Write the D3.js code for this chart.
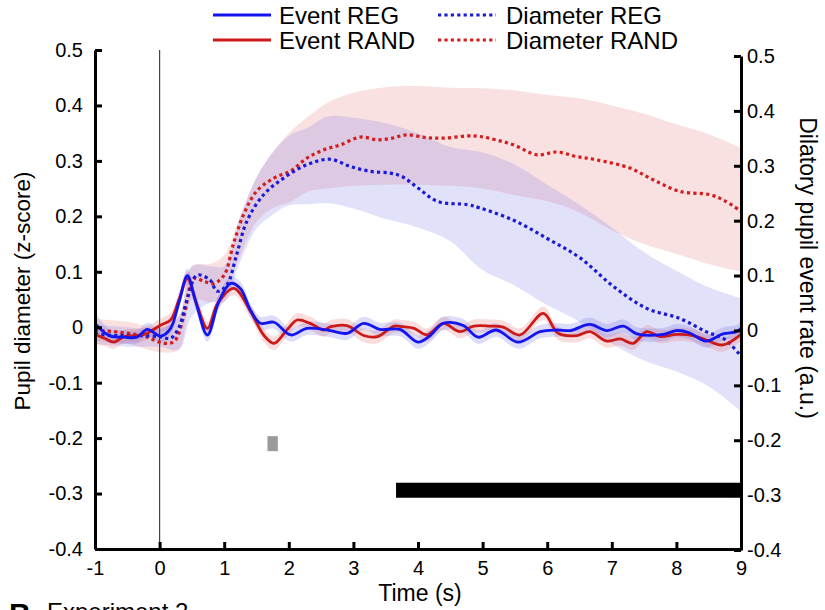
<!DOCTYPE html>
<html><head><meta charset="utf-8">
<script src="https://cdn.jsdelivr.net/npm/d3@7"></script>
<style>body{margin:0;background:#fff} svg{display:block} text{font-family:"Liberation Sans",Arial,sans-serif;fill:#000}</style>
</head><body><svg id="c" width="825" height="610"></svg>
<script>
// ---------- data ----------
const xTicks = [-1, 0, 1, 2, 3, 4, 5, 6, 7, 8, 9];
const yTicks = [-0.4, -0.3, -0.2, -0.1, 0, 0.1, 0.2, 0.3, 0.4, 0.5];

const seriesNames = ["Event REG", "Event RAND", "Diameter REG", "Diameter RAND"];

// Diameter REG (dotted blue), mean
const diamREG_t = [-1, -0.7, -0.33, 0, 0.17, 0.3, 0.43, 0.58, 0.78, 0.89, 1.04, 1.19, 1.35, 1.61, 1.92, 2.28, 2.64, 2.95, 3.27, 3.57, 3.75, 4.0, 4.3, 4.77, 4.96, 5.48, 6.0, 6.51, 7.02, 7.54, 8.05, 8.46, 8.75, 9.0];
const diamREG_v = [-0.012, -0.015, -0.015, -0.017, -0.02, 0.0, 0.052, 0.094, 0.085, 0.065, 0.076, 0.13, 0.191, 0.239, 0.269, 0.293, 0.303, 0.29, 0.281, 0.278, 0.272, 0.251, 0.227, 0.221, 0.215, 0.193, 0.16, 0.125, 0.074, 0.034, 0.016, -0.008, -0.022, -0.052];

// Diameter RAND (dotted red), mean
const diamRAND_t = [-1, -0.55, -0.24, 0.07, 0.23, 0.38, 0.53, 0.7, 0.84, 1.0, 1.14, 1.3, 1.5, 1.77, 2.03, 2.28, 2.54, 2.8, 3.11, 3.37, 3.6, 3.82, 4.13, 4.4, 4.77, 4.96, 5.2, 5.48, 5.84, 6.15, 6.45, 6.76, 7.28, 7.64, 8.05, 8.52, 8.75, 9.0];
const diamRAND_v = [-0.005, -0.01, -0.016, -0.029, -0.025, 0.022, 0.088, 0.082, 0.079, 0.094, 0.149, 0.203, 0.245, 0.269, 0.282, 0.305, 0.32, 0.329, 0.343, 0.338, 0.341, 0.347, 0.342, 0.341, 0.345, 0.344, 0.338, 0.329, 0.311, 0.316, 0.308, 0.302, 0.287, 0.266, 0.245, 0.239, 0.228, 0.209];

// Diameter confidence bands
const band_t = [-1, -0.5, 0, 0.3, 0.5, 0.8, 1.0, 1.25, 1.5, 1.75, 2.0, 2.3, 2.6, 3.0, 3.5, 4.0, 4.5, 5.0, 5.5, 6.0, 6.5, 7.0, 7.5, 8.0, 8.5, 9.0];
const diamRAND_hi = [0.015, 0.01, 0.0, 0.02, 0.11, 0.115, 0.13, 0.2, 0.27, 0.315, 0.35, 0.38, 0.405, 0.423, 0.433, 0.435, 0.432, 0.431, 0.427, 0.419, 0.413, 0.4, 0.385, 0.366, 0.348, 0.323];
const diamRAND_lo = [-0.025, -0.03, -0.045, -0.04, 0.05, 0.045, 0.06, 0.13, 0.19, 0.215, 0.225, 0.245, 0.25, 0.255, 0.257, 0.257, 0.255, 0.25, 0.238, 0.227, 0.207, 0.175, 0.15, 0.132, 0.114, 0.1];
const diamREG_hi = [0.005, 0.0, -0.002, 0.02, 0.11, 0.11, 0.11, 0.2, 0.27, 0.315, 0.345, 0.36, 0.38, 0.378, 0.368, 0.35, 0.325, 0.315, 0.293, 0.257, 0.221, 0.18, 0.135, 0.102, 0.072, 0.052];
const diamREG_lo = [-0.03, -0.035, -0.035, -0.04, 0.02, 0.045, 0.045, 0.119, 0.178, 0.203, 0.22, 0.222, 0.224, 0.214, 0.195, 0.18, 0.155, 0.103, 0.075, 0.04, 0.01, -0.03, -0.06, -0.08, -0.107, -0.152];

// Event REG (solid blue)
const evREG_t = [-1, -0.85, -0.76, -0.55, -0.35, -0.19, 0.02, 0.17, 0.3, 0.43, 0.55, 0.74, 0.92, 1.1, 1.25, 1.41, 1.56, 1.77, 2.03, 2.28, 2.64, 2.9, 3.16, 3.41, 3.72, 4.0, 4.19, 4.39, 4.7, 4.93, 5.21, 5.55, 5.89, 6.15, 6.36, 6.66, 6.92, 7.18, 7.39, 7.8, 8.0, 8.2, 8.46, 8.72, 8.93, 9.0];
const evREG_v = [0.007, -0.01, -0.016, -0.018, -0.018, -0.004, -0.016, -0.002, 0.045, 0.093, 0.05, -0.014, 0.047, 0.079, 0.07, 0.03, 0.007, 0.009, -0.014, -0.002, -0.006, -0.011, 0.007, -0.004, -0.004, -0.027, -0.015, 0.007, 0.003, -0.018, -0.005, -0.027, -0.008, -0.005, -0.006, 0.005, -0.006, 0.002, -0.012, -0.013, -0.006, -0.01, -0.025, -0.012, -0.008, -0.002];
const evREG_sem = [0.018, 0.014, 0.012, 0.012, 0.012, 0.012, 0.012, 0.012, 0.013, 0.013, 0.013, 0.012, 0.012, 0.012, 0.012, 0.012, 0.012, 0.012, 0.012, 0.012, 0.012, 0.012, 0.012, 0.012, 0.012, 0.012, 0.012, 0.012, 0.012, 0.012, 0.012, 0.012, 0.012, 0.012, 0.012, 0.012, 0.012, 0.012, 0.012, 0.012, 0.012, 0.012, 0.012, 0.012, 0.012, 0.012];

// Event RAND (solid red)
const evRAND_t = [-1, -0.85, -0.71, -0.55, -0.24, 0.02, 0.17, 0.3, 0.43, 0.58, 0.74, 0.9, 1.15, 1.41, 1.61, 1.77, 1.97, 2.13, 2.33, 2.54, 2.65, 2.9, 3.16, 3.37, 3.63, 3.76, 3.94, 4.14, 4.39, 4.65, 4.86, 5.12, 5.32, 5.58, 5.94, 6.17, 6.46, 6.66, 6.92, 7.13, 7.33, 7.54, 7.75, 8.0, 8.26, 8.46, 8.72, 9.0];
const evRAND_v = [-0.013, -0.02, -0.027, -0.017, -0.013, 0.004, 0.013, 0.05, 0.088, 0.04, -0.002, 0.043, 0.07, 0.028, -0.014, -0.029, -0.005, 0.013, 0.007, -0.005, 0.001, 0.003, -0.015, -0.017, 0.002, 0.001, -0.002, -0.014, 0.007, -0.008, 0.002, 0.002, 0.0, -0.014, 0.025, -0.011, -0.015, -0.008, -0.025, -0.021, -0.029, -0.008, -0.017, -0.013, -0.015, -0.023, -0.032, -0.013];
const evRAND_sem = [0.018, 0.014, 0.012, 0.012, 0.012, 0.012, 0.012, 0.013, 0.013, 0.013, 0.012, 0.012, 0.012, 0.012, 0.012, 0.012, 0.012, 0.012, 0.012, 0.012, 0.012, 0.012, 0.012, 0.012, 0.012, 0.012, 0.012, 0.012, 0.012, 0.012, 0.012, 0.012, 0.012, 0.012, 0.012, 0.012, 0.012, 0.012, 0.012, 0.012, 0.012, 0.012, 0.012, 0.012, 0.012, 0.012, 0.012, 0.012];

// significance bars: [start, end, level]
const sigGrey = [1.67, 1.83, -0.21];
const sigBlack = [3.66, 9.0, -0.294];

// ---------- drawing ----------
const svg = d3.select("#c");
const x = d3.scaleLinear().domain([-1, 9]).range([95, 741]);
const yL = d3.scaleLinear().domain([-0.4, 0.5]).range([549, 50]);
const yR = d3.scaleLinear().domain([-0.4, 0.5]).range([550, 56]);

const C = {
  blue: "#1414ee", red: "#cc1a1a",
  blueDot: "#1a1ad6", redDot: "#d21e1e",
  blueBand: "rgb(120,120,232)", redBand: "rgb(232,120,120)"
};

const zip = (t, v) => t.map((d, i) => ({t: d, v: v[i]}));
const curve = d3.curveCatmullRom.alpha(0.5);

const line = d3.line().x(d => x(d.t)).y(d => yL(d.v)).curve(curve);
const area = d3.area().x(d => x(d.t)).y0(d => yL(d.lo)).y1(d => yL(d.hi)).curve(curve);

const plot = svg.append("g");

function band(t, lo, hi, color, op) {
  plot.append("path")
    .datum(t.map((d, i) => ({t: d, lo: lo[i], hi: hi[i]})))
    .attr("d", area).attr("fill", color).attr("fill-opacity", op).attr("stroke", "none");
}
band(band_t, diamRAND_lo, diamRAND_hi, C.redBand, 0.22);
band(band_t, diamREG_lo, diamREG_hi, C.blueBand, 0.22);
band(evRAND_t, evRAND_v.map((v, i) => v - evRAND_sem[i]), evRAND_v.map((v, i) => v + evRAND_sem[i]), C.redBand, 0.25);
band(evREG_t, evREG_v.map((v, i) => v - evREG_sem[i]), evREG_v.map((v, i) => v + evREG_sem[i]), C.blueBand, 0.25);

// zero-time vertical line
plot.append("line").attr("x1", x(0)).attr("x2", x(0)).attr("y1", yL(0.5)).attr("y2", yL(-0.4))
  .attr("stroke", "#444").attr("stroke-width", 1.2);

// dotted diameter lines
plot.append("path").datum(zip(diamRAND_t, diamRAND_v)).attr("d", line)
  .attr("fill", "none").attr("stroke", C.redDot).attr("stroke-width", 3.2).attr("stroke-dasharray", "3.2,3.2");
plot.append("path").datum(zip(diamREG_t, diamREG_v)).attr("d", line)
  .attr("fill", "none").attr("stroke", C.blueDot).attr("stroke-width", 3.2).attr("stroke-dasharray", "3.2,3.2");

// event lines
plot.append("path").datum(zip(evRAND_t, evRAND_v)).attr("d", line)
  .attr("fill", "none").attr("stroke", C.red).attr("stroke-width", 2.8).attr("stroke-linejoin", "round");
plot.append("path").datum(zip(evREG_t, evREG_v)).attr("d", line)
  .attr("fill", "none").attr("stroke", C.blue).attr("stroke-width", 2.8).attr("stroke-linejoin", "round");

// significance bars
plot.append("rect").attr("x", x(sigGrey[0])).attr("width", x(sigGrey[1]) - x(sigGrey[0]))
  .attr("y", yL(sigGrey[2]) - 7.5).attr("height", 15).attr("fill", "#9a9a9a");
plot.append("rect").attr("x", x(sigBlack[0])).attr("width", x(sigBlack[1]) - x(sigBlack[0]))
  .attr("y", yL(sigBlack[2]) - 7.5).attr("height", 15).attr("fill", "#000");

// axes
const fmt = d => String(d);
function styleAxis(g) {
  g.selectAll(".domain").attr("stroke", "#000").attr("stroke-width", 3);
  g.selectAll(".tick line").attr("stroke", "#000").attr("stroke-width", 3);
  g.selectAll(".tick text").style("font-size", "20px").attr("fill", "#000")
    .style("font-family", "'Liberation Sans',Arial,sans-serif");
}
svg.append("g").attr("transform", "translate(95,0)")
  .call(d3.axisLeft(yL).tickValues(yTicks).tickSizeInner(-7).tickSizeOuter(0).tickPadding(12).tickFormat(fmt))
  .call(styleAxis);
svg.append("g").attr("transform", "translate(741,0)")
  .call(d3.axisRight(yR).tickValues(yTicks).tickSizeInner(-7).tickSizeOuter(0).tickPadding(6).tickFormat(fmt))
  .call(styleAxis);
svg.append("g").attr("transform", "translate(0,549)")
  .call(d3.axisBottom(x).tickValues(xTicks).tickSizeInner(-7).tickSizeOuter(0).tickPadding(12).tickFormat(fmt))
  .call(styleAxis);

// axis titles
svg.append("text").attr("x", 420).attr("y", 601).attr("text-anchor", "middle")
  .style("font-size", "23px").text("Time (s)");
svg.append("text").attr("transform", "translate(22,291) rotate(-90)").attr("dy", "0.35em")
  .attr("text-anchor", "middle").style("font-size", "22.5px").text("Pupil diameter (z-score)");
svg.append("text").attr("transform", "translate(808,268) rotate(90)").attr("dy", "0.35em")
  .attr("text-anchor", "middle").style("font-size", "23px").text("Dilatory pupil event rate (a.u.)");

// legend
const leg = svg.append("g");
const legItems = [
  {name: seriesNames[0], color: C.blue, dash: null, lx: 213, ly: 15},
  {name: seriesNames[1], color: C.red, dash: null, lx: 213, ly: 40},
  {name: seriesNames[2], color: C.blueDot, dash: "3.2,3.2", lx: 438, ly: 15},
  {name: seriesNames[3], color: C.redDot, dash: "3.2,3.2", lx: 438, ly: 40}
];
legItems.forEach(it => {
  leg.append("line").attr("x1", it.lx).attr("x2", it.lx + 58).attr("y1", it.ly).attr("y2", it.ly)
    .attr("stroke", it.color).attr("stroke-width", it.dash ? 3.2 : 3).attr("stroke-dasharray", it.dash);
  leg.append("text").attr("x", it.lx + (it.dash ? 68 : 66)).attr("y", it.ly + 9)
    .style("font-size", "24px").text(it.name);
});

// next panel label (clipped at bottom)
svg.append("text").attr("x", 9).attr("y", 624).style("font-size", "30px").style("font-weight", "bold").text("B");
svg.append("text").attr("x", 47).attr("y", 620).style("font-size", "24px").text("Experiment 2");
</script></body></html>
